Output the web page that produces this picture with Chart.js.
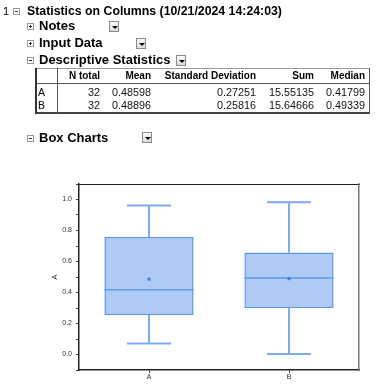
<!DOCTYPE html>
<html>
<head>
<meta charset="utf-8">
<script src="https://cdn.jsdelivr.net/npm/chart.js@4.4.1/dist/chart.umd.min.js"></script>
<style>
  html, body { margin:0; padding:0; background:#fff; }
  body { width:380px; height:389px; position:relative; overflow:hidden; font-family:"Liberation Sans", Arial, sans-serif; color:#000; }
  #c { position:absolute; left:0; top:0; }
  .t { position:absolute; white-space:nowrap; line-height:14px; height:14px; }
  .b { font-weight:bold; }
  .box { position:absolute; width:5px; height:5px; border:1px solid #9a9a9a; background:#fff; }
  .box:before { content:""; position:absolute; left:1px; top:2px; width:3px; height:1px; background:#333; }
  .box.plus:after { content:""; position:absolute; left:2px; top:1px; width:1px; height:3px; background:#333; }
  .btn { position:absolute; width:10px; height:11px; border:1px solid #8a8a8a; background:linear-gradient(#fafafa,#dcdcdc); box-sizing:border-box; }
  .btn:after { content:""; position:absolute; left:2px; top:4px; border-left:3px solid transparent; border-right:3px solid transparent; border-top:3px solid #000; }
</style>
</head>
<body>
<canvas id="c" width="380" height="389"></canvas>

<div class="t" style="left:3px;top:4px;font-size:11px;">1</div>
<div class="box" style="left:13px;top:8px;"></div>
<div class="t b" style="left:27px;top:4px;font-size:12.3px;">Statistics on Columns (10/21/2024 14:24:03)</div>

<div class="box plus" style="left:27px;top:23px;"></div>
<div class="t b" style="left:39px;top:19px;font-size:13px;">Notes</div>
<div class="btn" style="left:109px;top:21px;"></div>

<div class="box plus" style="left:27px;top:40px;"></div>
<div class="t b" style="left:39px;top:36px;font-size:13px;">Input Data</div>
<div class="btn" style="left:136px;top:38px;"></div>

<div class="box" style="left:27px;top:57px;"></div>
<div class="t b" style="left:39px;top:53px;font-size:13px;">Descriptive Statistics</div>
<div class="btn" style="left:176px;top:55px;"></div>

<div id="tbl"></div>

<div class="box" style="left:27px;top:135px;"></div>
<div class="t b" style="left:39px;top:131px;font-size:13px;">Box Charts</div>
<div class="btn" style="left:142px;top:132px;"></div>

<script>
// ---- data ----
const categories = ['A', 'B'];
const nTotal = [32, 32];
const meanVals = [0.48598, 0.48896];
const sdVals = [0.27251, 0.25816];
const sumVals = [15.55135, 15.64666];
const medianVals = [0.41799, 0.49339];
const q1Vals = [0.255, 0.300];
const q3Vals = [0.758, 0.658];
const whiskerLow = [0.071, 0.004];
const whiskerHigh = [0.961, 0.982];
const tableHeaders = ['N total', 'Mean', 'Standard Deviation', 'Sum', 'Median'];
const yTickLabels = ['0.0', '0.2', '0.4', '0.6', '0.8', '1.0'];
const yAxisTitle = 'A';

// ---- table (HTML) ----
(function () {
  const tbl = document.getElementById('tbl');
  const colRight = [100, 151, 256, 314, 365];
  const rowCenter = [75.5, 91.5, 105];
  function add(html, style) {
    const d = document.createElement('div');
    d.textContent = html;
    d.setAttribute('style', style);
    tbl.appendChild(d);
  }
  function line(x, y, w, h, c) {
    add('', `position:absolute;left:${x}px;top:${y}px;width:${w}px;height:${h}px;background:${c};`);
  }
  tableHeaders.forEach((h, j) => {
    add(h, `position:absolute;white-space:nowrap;height:12px;line-height:12px;right:${380 - colRight[j]}px;top:${rowCenter[0] - 6}px;font-size:10px;font-weight:bold;`);
  });
  categories.forEach((c, i) => {
    const top = rowCenter[i + 1] - 6;
    add(c, `position:absolute;left:38px;top:${top}px;height:12px;line-height:12px;font-size:10.5px;`);
    const vals = [String(nTotal[i]), meanVals[i].toFixed(5), sdVals[i].toFixed(5), sumVals[i].toFixed(5), medianVals[i].toFixed(5)];
    vals.forEach((v, j) => {
      add(v, `position:absolute;white-space:nowrap;height:12px;line-height:12px;right:${380 - colRight[j]}px;top:${top}px;font-size:10.8px;color:#111;`);
    });
  });
  line(36, 68, 334, 1, '#9a9a9a');
  line(36, 83, 334, 1, '#555');
  line(36, 112, 334, 2, '#444');
  line(35, 68, 2, 46, '#333');
  line(57, 68, 1, 46, '#555');
  line(369, 68, 1, 46, '#555');
})();

// ---- chart ----
const BOX_HALF = 0.3185;   // half box width in category units
const CAP_HALF = 0.157;    // half whisker-cap width in category units

const whiskerPts = [];
const medianPts = [];
categories.forEach((c, i) => {
  const x = i + 1;
  whiskerPts.push({x: x, y: q3Vals[i]}, {x: x, y: whiskerHigh[i]}, {x: x, y: null});
  whiskerPts.push({x: x - CAP_HALF, y: whiskerHigh[i]}, {x: x + CAP_HALF, y: whiskerHigh[i]}, {x: x, y: null});
  whiskerPts.push({x: x, y: q1Vals[i]}, {x: x, y: whiskerLow[i]}, {x: x, y: null});
  whiskerPts.push({x: x - CAP_HALF, y: whiskerLow[i]}, {x: x + CAP_HALF, y: whiskerLow[i]}, {x: x, y: null});
  medianPts.push({x: x - BOX_HALF, y: medianVals[i]}, {x: x + BOX_HALF, y: medianVals[i]}, {x: x, y: null});
});
const meanPts = categories.map((c, i) => ({x: i + 1, y: meanVals[i]}));

Chart.defaults.font.family = '"Liberation Sans", Arial, sans-serif';

new Chart(document.getElementById('c'), {
  type: 'bar',
  data: {
    labels: categories,
    datasets: [
      {
        type: 'bar', order: 10, xAxisID: 'x', yAxisID: 'y', grouped: false,
        data: categories.map((c, i) => [q1Vals[i], q3Vals[i]]),
        backgroundColor: '#afcbf3', borderColor: '#5b95e8', borderWidth: 1.5,
        borderSkipped: false, barPercentage: 0.637, categoryPercentage: 1
      },
      {
        type: 'line', order: 3, xAxisID: 'xl', yAxisID: 'y',
        data: whiskerPts, borderColor: '#7eabef', borderWidth: 2,
        pointRadius: 0, spanGaps: false, fill: false, tension: 0
      },
      {
        type: 'line', order: 2, xAxisID: 'xl', yAxisID: 'y',
        data: medianPts, borderColor: '#6299e8', borderWidth: 1.5,
        pointRadius: 0, spanGaps: false, fill: false, tension: 0
      },
      {
        type: 'line', order: 1, xAxisID: 'xl', yAxisID: 'y',
        data: meanPts, showLine: false, pointStyle: 'rect', pointRadius: 2.1,
        pointBackgroundColor: '#3a7fe5', pointBorderColor: '#3a7fe5', pointBorderWidth: 0
      }
    ]
  },
  options: {
    responsive: false,
    animation: false,
    events: [],
    layout: { padding: { left: 50, top: 184, right: 21, bottom: 0 } },
    plugins: { legend: { display: false }, tooltip: { enabled: false } },
    scales: {
      x: {
        type: 'category', position: 'bottom', offset: true,
        grid: { display: true, offset: false, drawOnChartArea: false, drawTicks: true, tickLength: 3, color: '#444' },
        border: { display: true, color: '#222', width: 1.5 },
        ticks: { font: { size: 7 }, color: '#333', padding: 0 },
        afterFit(s) { s.height = 19; }
      },
      xl: { type: 'linear', display: false, offset: false, min: 0.5, max: 2.5, grid: { offset: false } },
      xt: {
        type: 'linear', position: 'top', display: true, offset: false,
        ticks: { display: false }, grid: { display: false, offset: false },
        border: { display: true, color: '#222', width: 1 },
        afterFit(s) { s.height = 0; }
      },
      y: {
        type: 'linear', position: 'left', min: -0.1, max: 1.1,
        ticks: {
          stepSize: 0.1, autoSkip: false, font: { size: 7 }, color: '#333', padding: 4,
          callback(v) {
            const k = Math.round(v * 10);
            return (k >= 0 && k % 2 === 0 && k / 2 < yTickLabels.length) ? yTickLabels[k / 2] : '';
          }
        },
        grid: { display: true, drawOnChartArea: false, drawTicks: true, tickLength: 3, color: '#444' },
        border: { display: true, color: '#222', width: 1.5 },
        title: { display: true, text: yAxisTitle, font: { size: 8 }, color: '#333', padding: 0 },
        afterFit(s) { s.width = 29; }
      },
      yr: {
        type: 'linear', position: 'right', display: true,
        ticks: { display: false }, grid: { display: false },
        border: { display: true, color: '#777', width: 1.5 },
        afterFit(s) { s.width = 0; }
      }
    }
  }
});
</script>
</body>
</html>
